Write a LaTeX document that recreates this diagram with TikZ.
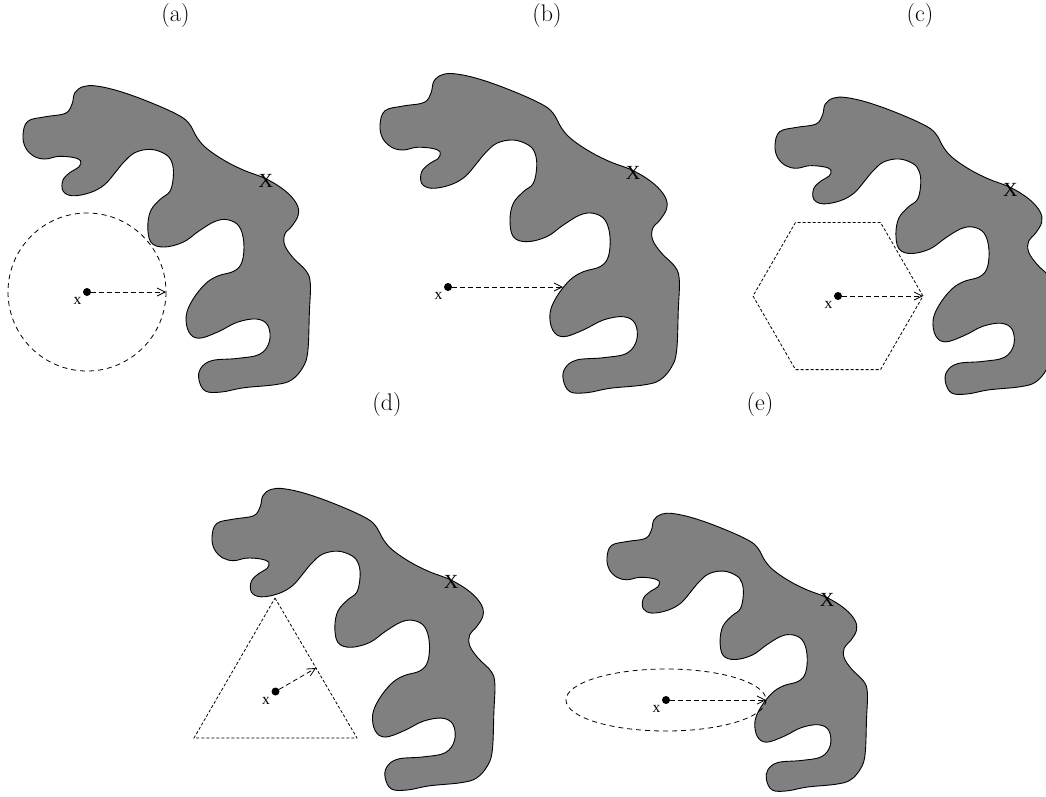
\documentclass[tikz,border=0pt]{standalone}
\usepackage{fontspec}
\newfontfamily\timesf{Liberation Serif}
\usetikzlibrary{arrows.meta}
\newcommand\blobdraw{\draw[blob] plot[smooth cycle,tension=0.62] coordinates {
(0,0) (5,-14.3) (23.3,-19) (44,-22.5) (51,-32) (54,-44) (63,-50.5) (76.7,-51)
(100,-45.7) (130,-35) (160,-21.7) (172.7,-12.3) (181.7,3.3) (191.7,14.3) (210,26.7)
(230,36.7) (253.3,45.7) (273.3,58.3) (285,71.7) (286.7,83.3) (280,95) (272.7,103.3)
(272.7,115) (281.7,128.3) (295,141.7) (299.3,155) (298.3,185) (296.7,225) (291.7,241.7)
(280,255) (263.3,260) (230,263.3) (206.7,267.7) (190,266.7) (183.3,255) (185,243.3)
(196.7,235) (223.3,232.7) (246.7,228.3) (256.7,215) (255,198.3) (243.3,191.7)
(223.3,195) (203.3,205) (183.3,211.7) (172.7,205) (170,188.3) (176.7,171.7) (190,155)
(203.3,146.7) (220,141.7) (228.3,131.7) (230,111.7) (225,95) (213.3,88.3) (200,90)
(183.3,100) (166.7,111.7) (146.7,116.7) (133.3,111.7) (130,95) (133.3,78.3)
(143.3,66.7) (153.3,58.3) (156.7,41.7) (155,28.3) (148.3,20) (133.3,15) (116.7,18.3)
(105,28.3) (96.7,38.3) (85,51.7) (70,60) (51.7,63.3) (41.7,58.3) (41.7,46.7) (50,38.3)
(58.3,33.3) (60,26.7) (51.7,23.3) (36.7,22.3) (23.3,25) (11.7,22.3) (2.7,13.3)};}
\newcommand\myblob[4]{\begin{scope}[shift={(#1,#2)},scale=#3]
\blobdraw
\node[Xlab] (#4) at (253,48) {X};
\end{scope}}
\begin{document}
\begin{tikzpicture}[x=1pt,y=-1pt,
  blob/.style={fill=gray,draw=black,line width=0.9pt},
  Xlab/.style={font=\timesf\fontsize{20}{20}\selectfont,inner sep=0pt},
  xlab/.style={font=\timesf\fontsize{15.5}{16}\selectfont,inner sep=0pt},
  plab/.style={font=\fontsize{24}{28}\selectfont,inner sep=0pt},
  dot/.style={circle,fill=black,inner sep=0pt,minimum size=8pt},
  arr/.style={line width=0.8pt,dash pattern=on 5pt off 3pt,-{Straight Barb[length=8pt,width=8pt]}},
  region/.style={line width=0.8pt,dash pattern=on 5pt off 4pt},
  fineregion/.style={line width=0.8pt,dash pattern=on 3pt off 2pt}]
\useasboundingbox (0,0) rectangle (1046,796);
% panel labels
\node[plab] (la) at (175.5,16) {(a)};
\node[plab] (lb) at (547,16) {(b)};
\node[plab] (lc) at (920,16) {(c)};
\node[plab] (ld) at (387,405) {(d)};
\node[plab] (le) at (760,405) {(e)};
% blobs
\myblob{23}{135}{0.96}{Xa}
\myblob{380}{125}{1}{Xb}
\myblob{775}{145}{0.93}{Xc}
\myblob{212}{537}{0.945}{Xd}
\myblob{607}{558}{0.87}{Xe}
% (a) circle
\draw[region] (87,292) circle[radius=79];
\coordinate (ea) at (166,292);
\node[dot] (da) at (87,292) {};
\node[xlab] (xa) at ([shift={(-9.5,9)}]da.center) {x};
\draw[arr] (da) -- (ea);
% (b)
\coordinate (eb) at (563,287);
\node[dot] (db) at (448,287) {};
\node[xlab] (xb) at ([shift={(-9.5,9)}]db.center) {x};
\draw[arr] (db) -- (eb);
% (c) hexagon
\draw[fineregion] (923,296) -- (880.5,222.4) -- (795.5,222.4) -- (753,296) -- (795.5,369.6) -- (880.5,369.6) -- cycle;
\coordinate (ec) at (923,296);
\node[dot] (dc) at (838,296) {};
\node[xlab] (xc) at ([shift={(-9.5,9)}]dc.center) {x};
\draw[arr] (dc) -- (ec);
% (d) triangle
\draw[fineregion] (275,598) -- (357,738) -- (194,738) -- cycle;
\coordinate (ed) at (316,668);
\node[dot] (dd) at (275.5,691.5) {};
\node[xlab] (xd) at ([shift={(-9.5,9)}]dd.center) {x};
\draw[arr] (dd) -- (ed);
% (e) ellipse
\draw[region] (666,700) ellipse[x radius=100,y radius=31];
\coordinate (ee) at (766,700);
\node[dot] (de) at (666,700) {};
\node[xlab] (xe) at ([shift={(-9.5,9)}]de.center) {x};
\draw[arr] (de) -- (ee);
\end{tikzpicture}
\end{document}
